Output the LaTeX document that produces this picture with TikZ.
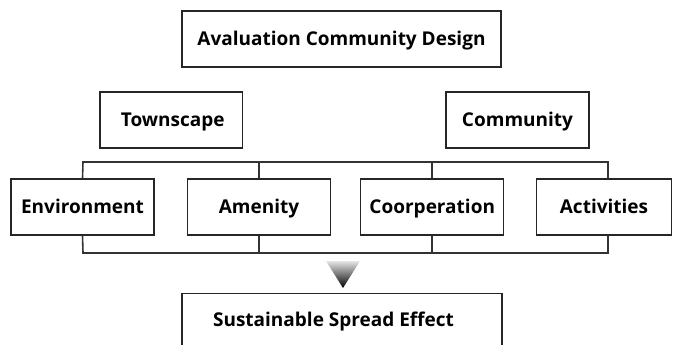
\documentclass[tikz,border=0pt]{standalone}
\usepackage{fontspec}
\setmainfont{Open Sans}
\begin{document}
\begin{tikzpicture}[x=1pt,y=-1pt,
  lbl/.style={font=\bfseries\fontsize{19}{22}\selectfont,text height=13.6pt,text depth=0pt,inner sep=0pt},
  box/.style={lbl,draw=black!85,line width=1.3pt,fill=white},
  bus/.style={draw=black!80,line width=1.6pt}]
\useasboundingbox (0,0) rectangle (673,345);
\clip (0,0) rectangle (673,345);
\node[box,minimum width=319pt,minimum height=56pt] (top) at (341.5,39) {Avaluation Community Design};
\node[box,minimum width=142.5pt,minimum height=56pt] (town) at (171.25,120) {\hspace{3pt}Townscape};
\node[box,minimum width=143pt,minimum height=56pt] (comm) at (517.5,120) {Community\hspace{16pt}};
\node[box,minimum width=143pt,minimum height=56pt] (env) at (82.5,207) {Environment};
\node[box,minimum width=143pt,minimum height=56pt] (ame) at (259,207) {Amenity};
\node[box,minimum width=143pt,minimum height=56pt] (coo) at (432.25,207) {Coorperation};
\node[box,minimum width=135pt,minimum height=56pt] (act) at (604,207) {Activities};
\node[box,minimum width=320pt,minimum height=70pt,anchor=north] (eff) at (342,293) {};
\node[lbl] (efft) at (333.5,320) {Sustainable Spread Effect};
\coordinate (tl) at (83,162);
\coordinate (tr) at (608,162);
\coordinate (bl) at (83,253);
\coordinate (br) at (608,253);
\draw[bus] (env.north) -- (tl) -- (tr) -- (act.north -| tr);
\draw[bus] (ame.north) -- (ame.north |- tl);
\draw[bus] (coo.north) -- (coo.north |- tl);
\draw[bus] (env.south) -- (bl) -- (br) -- (act.south -| br);
\draw[bus] (ame.south) -- (ame.south |- bl);
\draw[bus] (coo.south) -- (coo.south |- bl);
\shade[top color=black!10,bottom color=black] (326,261) -- (360,261) -- (343,288) -- cycle;
\end{tikzpicture}
\end{document}
